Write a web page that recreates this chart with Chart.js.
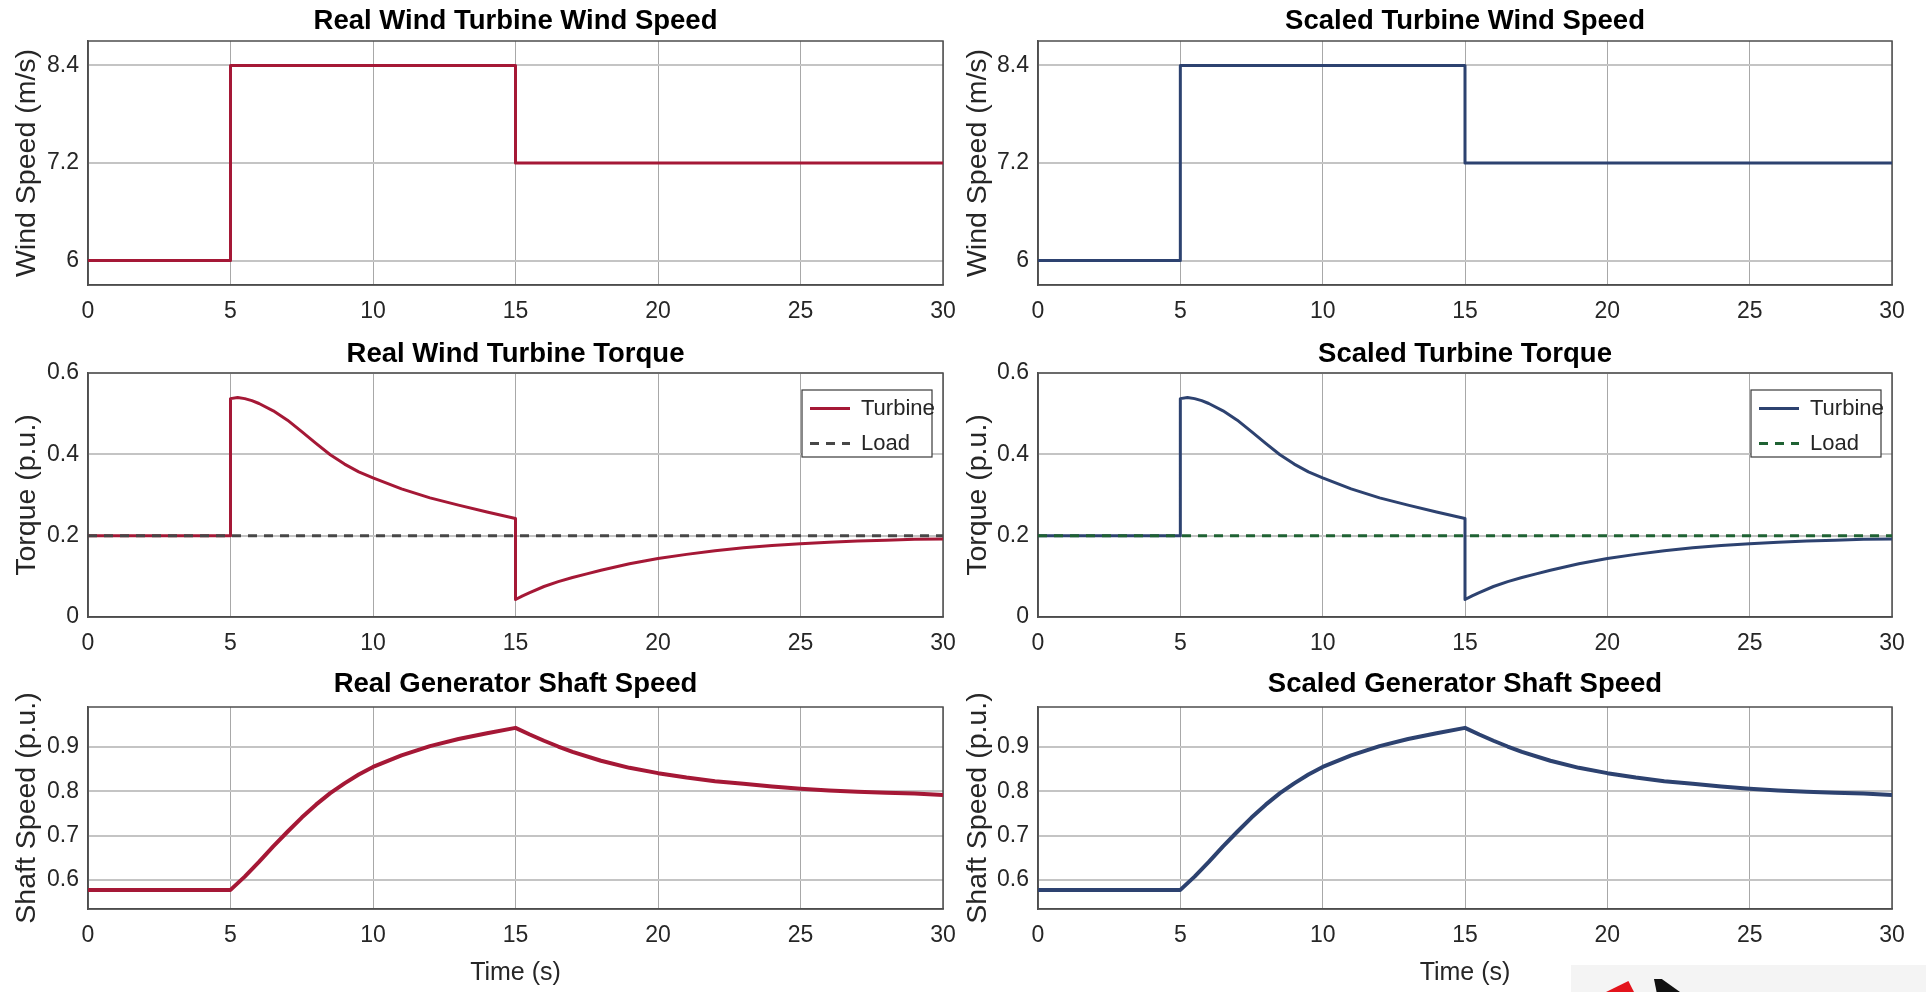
<!DOCTYPE html>
<html>
<head>
<meta charset="utf-8">
<title>Real vs scaled wind turbine</title>
<script src="https://cdn.jsdelivr.net/npm/chart.js@4.4.1/dist/chart.umd.min.js"></script>
<style>
  body { margin: 0; background: #fff; }
  #page { position: relative; width: 1926px; height: 992px; overflow: hidden; background: #fff; }
  canvas { position: absolute; }
  .logo { position: absolute; left: 1571px; top: 965px; width: 355px; height: 27px; background: #f4f4f4; }
  .logo-red { position: absolute; left: 1606px; top: 981px; width: 28px; height: 11px; background: #e3141c;
              clip-path: polygon(80% 0, 100% 100%, 0 100%); }
  .logo-black { position: absolute; left: 1654px; top: 979px; width: 26px; height: 13px; background: #111;
                clip-path: polygon(0 0, 30% 0, 100% 100%, 10% 100%); }
</style>
</head>
<body>
<div id="page">
  <canvas id="windRealChart" width="960" height="330" style="left:0;top:0"></canvas>
  <canvas id="windScaledChart" width="966" height="330" style="left:960px;top:0"></canvas>
  <canvas id="torqueRealChart" width="960" height="330" style="left:0;top:330px"></canvas>
  <canvas id="torqueScaledChart" width="966" height="330" style="left:960px;top:330px"></canvas>
  <canvas id="shaftRealChart" width="960" height="332" style="left:0;top:660px"></canvas>
  <canvas id="shaftScaledChart" width="966" height="332" style="left:960px;top:660px"></canvas>
  <div class="logo"></div>
  <div class="logo-red"></div>
  <div class="logo-black"></div>
</div>
<script>
// tick labels
const timeTicks = [0, 5, 10, 15, 20, 25, 30];
const windTicks = [6, 7.2, 8.4];
const torqueTicks = [0, 0.2, 0.4, 0.6];
const shaftTicks = [0.6, 0.7, 0.8, 0.9];

// wind speed steps (m/s), drawn as a stepped line
const windTime = [0, 5, 15, 30];
const windReal = [6, 8.4, 7.2, 7.2];
const windScaled = [6, 8.4, 7.2, 7.2];

// turbine torque (p.u.)
const torqueTime = [0, 5, 5, 5.25, 5.5, 5.75, 6, 6.5, 7, 7.5, 8, 8.5, 9, 9.5, 10, 11, 12, 13, 14, 15, 15,
  15.25, 15.5, 16, 16.5, 17, 17.5, 18, 19, 20, 21, 22, 23, 24, 25, 26, 27, 28, 29, 30];
const torqueReal = [0.2, 0.2, 0.537, 0.54, 0.537, 0.532, 0.525, 0.507, 0.484, 0.456, 0.427, 0.399, 0.376, 0.357,
  0.342, 0.315, 0.293, 0.275, 0.258, 0.242, 0.043, 0.052, 0.06, 0.075, 0.087, 0.097, 0.106, 0.115, 0.131,
  0.144, 0.154, 0.163, 0.17, 0.176, 0.18, 0.184, 0.187, 0.189, 0.191, 0.192];
const torqueScaled = [0.2, 0.2, 0.537, 0.54, 0.537, 0.532, 0.525, 0.507, 0.484, 0.456, 0.427, 0.399, 0.376, 0.357,
  0.342, 0.315, 0.293, 0.275, 0.258, 0.242, 0.043, 0.052, 0.06, 0.075, 0.087, 0.097, 0.106, 0.115, 0.131,
  0.144, 0.154, 0.163, 0.17, 0.176, 0.18, 0.184, 0.187, 0.189, 0.191, 0.192];

// load torque (p.u.)
const loadTime = [0, 30];
const loadTorque = [0.2, 0.2];

// generator shaft speed (p.u.)
const shaftTime = [0, 5, 5.5, 6, 6.5, 7, 7.5, 8, 8.5, 9, 9.5, 10, 11, 12, 13, 14, 15, 15.5, 16, 16.5,
  17, 18, 19, 20, 21, 22, 23, 24, 25, 26, 27, 28, 29, 30];
const shaftReal = [0.578, 0.578, 0.608, 0.641, 0.676, 0.709, 0.741, 0.77, 0.796, 0.818, 0.838, 0.855, 0.881,
  0.902, 0.918, 0.931, 0.943, 0.928, 0.914, 0.901, 0.889, 0.869, 0.853, 0.841, 0.831, 0.823, 0.817, 0.811,
  0.806, 0.802, 0.799, 0.797, 0.795, 0.792];
const shaftScaled = [0.578, 0.578, 0.608, 0.641, 0.676, 0.709, 0.741, 0.77, 0.796, 0.818, 0.838, 0.855, 0.881,
  0.902, 0.918, 0.931, 0.943, 0.928, 0.914, 0.901, 0.889, 0.869, 0.853, 0.841, 0.831, 0.823, 0.817, 0.811,
  0.806, 0.802, 0.799, 0.797, 0.795, 0.792];

const FONT = '"Liberation Sans", Arial, Helvetica, sans-serif';
const TEXT = '#262626';
const RED = '#a51836';
const BLUE = '#2d4270';
const GREEN = '#1f6233';
const LOAD_GRAY = '#474747';

Chart.defaults.font.family = FONT;

const rows = {
  top: { xHeight: 45, titlePad: { top: 4.5, bottom: 3.5 } },
  mid: { xHeight: 43, titlePad: { top: 7.5, bottom: 2.5 } },
  bot: { xHeight: 83, titlePad: { top: 7.5, bottom: 6.5 } }
};
const cols = {
  left: { yWidth: 88, padRight: 17, yTitlePad: 10 },
  right: { yWidth: 78, padRight: 34, yTitlePad: 1 }
};

function toPoints(xs, ys) {
  return xs.map((x, i) => ({ x: x, y: ys[i] }));
}

// legend items take their line style from the dataset itself
function lineLabels(chart) {
  const items = Chart.defaults.plugins.legend.labels.generateLabels(chart);
  return items.map(item => {
    const ds = chart.data.datasets[item.datasetIndex];
    item.strokeStyle = ds.borderColor;
    item.lineWidth = ds.borderWidth;
    item.lineDash = ds.borderDash || [];
    item.pointStyle = 'line';
    return item;
  });
}

// box around the plot area, plus the framed legend inside it
const frame = {
  id: 'frame',
  afterLayout(chart) {
    const lg = chart.legend;
    if (!lg || !lg.options.display) return;
    const a = chart.chartArea;
    const pad = lg.options.labels.padding;
    const box = { w: 130, h: 67 };
    box.x = a.right - 11 - box.w;
    box.y = a.top + 17;
    chart.$legendBox = box;
    lg.left = box.x + 8 - pad;
    lg.top = box.y + 7.5 - pad;
    lg.right = a.right;
    lg.bottom = a.bottom;
  },
  beforeDatasetsDraw(chart) {
    const { ctx, chartArea: a } = chart;
    ctx.save();
    ctx.strokeStyle = '#4d4d4d';
    ctx.lineWidth = 1.5;
    ctx.strokeRect(a.left, a.top, a.right - a.left, a.bottom - a.top);
    ctx.restore();
  },
  afterDatasetsDraw(chart) {
    const box = chart.$legendBox;
    if (!box) return;
    const ctx = chart.ctx;
    ctx.save();
    ctx.fillStyle = '#fff';
    ctx.fillRect(box.x, box.y, box.w, box.h);
    ctx.strokeStyle = '#3a3a3a';
    ctx.lineWidth = 1.2;
    ctx.strokeRect(box.x, box.y, box.w, box.h);
    ctx.restore();
    chart.legend.draw();
  }
};

function makePanel(id, col, row, title, yLabel, yMin, yMax, yTicks, datasets, withLegend) {
  const c = cols[col];
  const r = rows[row];
  return new Chart(document.getElementById(id), {
    type: 'line',
    data: { datasets: datasets },
    options: {
      responsive: false,
      animation: false,
      events: [],
      layout: { padding: { left: 0, right: c.padRight, top: 0, bottom: 0 } },
      elements: {
        point: { radius: 0 },
        line: { tension: 0, borderJoinStyle: 'round', fill: false }
      },
      plugins: {
        title: {
          display: true, text: title, fullSize: false, color: '#000',
          font: { size: 27.5, weight: 'bold' }, padding: r.titlePad
        },
        legend: withLegend ? {
          display: true, position: 'chartArea', align: 'start',
          labels: {
            usePointStyle: true, pointStyle: 'line', pointStyleWidth: 40,
            padding: 13, color: TEXT, font: { size: 22 },
            generateLabels: lineLabels,
            sort: (a, b) => a.datasetIndex - b.datasetIndex
          }
        } : { display: false },
        tooltip: { enabled: false }
      },
      scales: {
        x: {
          type: 'linear', min: 0, max: 30,
          afterBuildTicks: s => { s.ticks = timeTicks.map(v => ({ value: v })); },
          afterFit: s => { s.height = r.xHeight; s.paddingLeft = 0; s.paddingRight = 0; },
          grid: { color: '#a8a8a8', lineWidth: 1, drawTicks: false },
          border: { display: true, color: '#4d4d4d', width: 1.5 },
          ticks: { color: TEXT, font: { size: 23 }, padding: 13, maxRotation: 0, autoSkip: false,
                   callback: v => String(v) },
          title: row === 'bot'
            ? { display: true, text: 'Time (s)', color: TEXT, font: { size: 25 }, padding: { top: 0, bottom: 4 } }
            : { display: false }
        },
        y: {
          type: 'linear', min: yMin, max: yMax,
          afterBuildTicks: s => { s.ticks = yTicks.map(v => ({ value: v })); },
          afterFit: s => { s.width = c.yWidth; s.paddingTop = 0; s.paddingBottom = 0; },
          grid: { color: '#c4c4c4', lineWidth: 2, drawTicks: false },
          border: { display: true, color: '#4d4d4d', width: 1.5 },
          ticks: { color: TEXT, font: { size: 23 }, padding: 9, callback: v => String(v) },
          title: { display: true, text: yLabel, color: TEXT, font: { size: 28.5 },
                   padding: { top: c.yTitlePad, bottom: 0 } }
        }
      }
    },
    plugins: [frame]
  });
}

function windSet(values, color) {
  return [{ label: 'Wind speed', data: toPoints(windTime, values), borderColor: color,
            backgroundColor: color, borderWidth: 3, stepped: 'before' }];
}

function torqueSets(values, color, loadColor) {
  return [
    { label: 'Turbine', data: toPoints(torqueTime, values), borderColor: color,
      backgroundColor: color, borderWidth: 3, order: 1 },
    { label: 'Load', data: toPoints(loadTime, loadTorque), borderColor: loadColor,
      backgroundColor: loadColor, borderWidth: 3, borderDash: [9, 7], order: 0 }
  ];
}

function shaftSet(values, color) {
  return [{ label: 'Shaft speed', data: toPoints(shaftTime, values), borderColor: color,
            backgroundColor: color, borderWidth: 4 }];
}

makePanel('windRealChart', 'left', 'top', 'Real Wind Turbine Wind Speed', 'Wind Speed (m/s)',
  5.7, 8.7, windTicks, windSet(windReal, RED), false);
makePanel('windScaledChart', 'right', 'top', 'Scaled Turbine Wind Speed', 'Wind Speed (m/s)',
  5.7, 8.7, windTicks, windSet(windScaled, BLUE), false);
makePanel('torqueRealChart', 'left', 'mid', 'Real Wind Turbine Torque', 'Torque (p.u.)',
  0, 0.6, torqueTicks, torqueSets(torqueReal, RED, LOAD_GRAY), true);
makePanel('torqueScaledChart', 'right', 'mid', 'Scaled Turbine Torque', 'Torque (p.u.)',
  0, 0.6, torqueTicks, torqueSets(torqueScaled, BLUE, GREEN), true);
makePanel('shaftRealChart', 'left', 'bot', 'Real Generator Shaft Speed', 'Shaft Speed (p.u.)',
  0.535, 0.99, shaftTicks, shaftSet(shaftReal, RED), false);
makePanel('shaftScaledChart', 'right', 'bot', 'Scaled Generator Shaft Speed', 'Shaft Speed (p.u.)',
  0.535, 0.99, shaftTicks, shaftSet(shaftScaled, BLUE), false);
</script>
</body>
</html>
